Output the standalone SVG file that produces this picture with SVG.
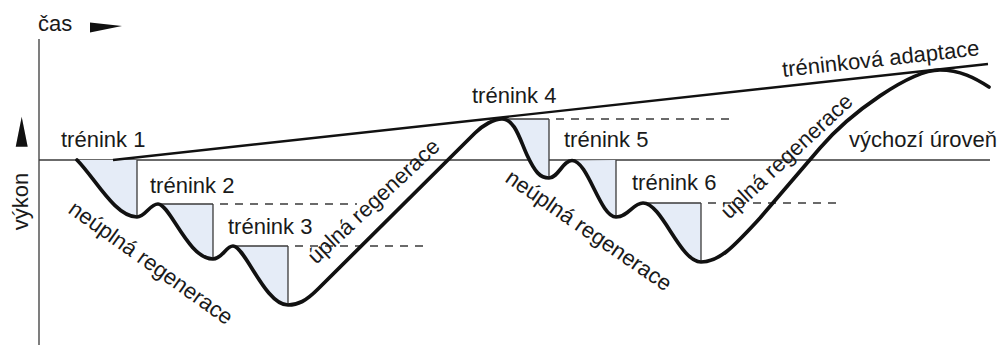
<svg xmlns="http://www.w3.org/2000/svg" width="999" height="346" viewBox="0 0 999 346">
<style>
  .t { font-family: "Liberation Sans", Arial, sans-serif; font-size: 22px; fill: #1a1a1a; }
  .thin { stroke: #3a3a3a; stroke-width: 1.3; fill: none; }
  .dash { stroke: #3a3a3a; stroke-width: 1.3; fill: none; stroke-dasharray: 8 7; }
  .fill { fill: #e5ecf7; stroke: none; }
  .curve { stroke: #111; stroke-width: 3.7; fill: none; stroke-linejoin: round; stroke-linecap: round; }
  .adapt { stroke: #111; stroke-width: 2.4; fill: none; }
</style>
<rect width="999" height="346" fill="#ffffff"/>

<g id="axes">
  <line class="thin" x1="39" y1="39" x2="39" y2="345"/>
  <line class="thin" x1="39" y1="160" x2="990" y2="160"/>
  <polygon points="90,22.5 122,26 90,32.5" fill="#111"/>
  <polygon points="15.7,146.7 27.7,146.7 21.7,116.7" fill="#111"/>
  <text class="t" x="38" y="31">čas</text>
  <text class="t" transform="translate(27.5,201.5) rotate(-90)" text-anchor="middle">výkon</text>
  <text class="t" x="849" y="147">výchozí úroveň</text>
</g>

<g id="fills">
  <path class="fill" d="M77,160 C95,178 115,217 137,217 L137,160 Z"/>
  <path class="fill" d="M158,204 C170,204 188,259 213,259 L213,204 Z"/>
  <path class="fill" d="M233,246 C245,246 265,305 288,305 L288,246 Z"/>
  <path class="fill" d="M502,119 C515,119 520,140 527,155 C535,172 540,178 549,178 L549,119 Z"/>
  <path class="fill" d="M572,160.5 C588,160.5 600,217 616,217 L616,160 Z"/>
  <path class="fill" d="M643,203 C662,203 680,262 701,262 L701,203 Z"/>
</g>

<g id="connectors">
  <line class="thin" x1="137" y1="160" x2="137" y2="217"/>
  <line class="thin" x1="158" y1="204" x2="213" y2="204"/>
  <line class="thin" x1="213" y1="204" x2="213" y2="259"/>
  <line class="dash" x1="220" y1="204" x2="357" y2="204"/>
  <line class="thin" x1="233" y1="246" x2="288" y2="246"/>
  <line class="thin" x1="288" y1="246" x2="288" y2="305"/>
  <line class="dash" x1="295" y1="246" x2="428" y2="246"/>
  <line class="thin" x1="502" y1="119" x2="549" y2="119"/>
  <line class="thin" x1="549" y1="119" x2="549" y2="178"/>
  <line class="dash" x1="556" y1="119" x2="729" y2="119"/>
  <line class="thin" x1="616" y1="160" x2="616" y2="217"/>
  <line class="thin" x1="643" y1="203" x2="701" y2="203"/>
  <line class="thin" x1="701" y1="203" x2="701" y2="262"/>
  <line class="dash" x1="708" y1="203" x2="842" y2="203"/>
  <line class="adapt" x1="113" y1="160" x2="988" y2="64"/>
  <path class="curve" d="M77,160 C95,178 115,217 137,217 C145,217 150,204 158,204 C170,204 188,259 213,259 C222,259 226,246 233,246 C245,246 265,305 288,305 C298,305 306,301 318,289 L475,133 C483,125 494,119 502,119 C515,119 520,140 527,155 C535,172 540,178 549,178 C558,178 563,160.5 572,160.5 C588,160.5 600,217 616,217 C628,217 633,203 643,203 C662,203 680,262 701,262 C720,262 735,245 760,218 L820,148 C850,113 910,70 940,70 C960,70 975,78 989,87"/>
</g>

<g id="labels">
  <text class="t" x="61" y="147">trénink 1</text>
  <text class="t" x="150" y="193">trénink 2</text>
  <text class="t" x="228" y="234">trénink 3</text>
  <text class="t" x="472" y="103">trénink 4</text>
  <text class="t" x="564" y="147">trénink 5</text>
  <text class="t" x="632" y="190">trénink 6</text>
  <text class="t" transform="translate(783,77) rotate(-6.3)">tréninková adaptace</text>
  <text class="t" transform="translate(67,212) rotate(35.5)">neúplná regenerace</text>
  <text class="t" transform="translate(504,181) rotate(34.5)">neúplná regenerace</text>
  <text class="t" transform="translate(316,265) rotate(-43)">úplná regenerace</text>
  <text class="t" transform="translate(729,220) rotate(-43)">úplná regenerace</text>
</g>
</svg>
